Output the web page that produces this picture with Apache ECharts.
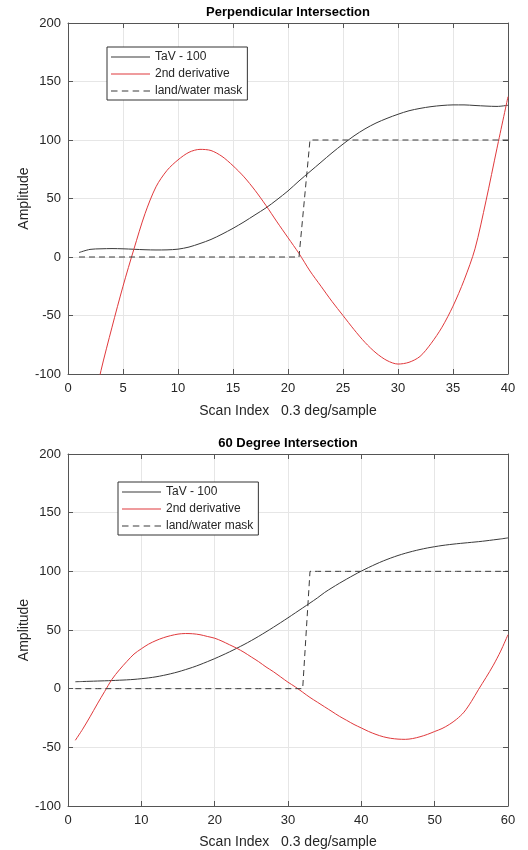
<!DOCTYPE html>
<html>
<head>
<meta charset="utf-8">
<script src="https://cdn.jsdelivr.net/npm/echarts@6/dist/echarts.min.js"></script>
<style>
html,body{margin:0;padding:0;background:#fff;}
#chart{width:528px;height:850px;}
</style>
</head>
<body>
<div id="chart"></div>
<script>
// ---------- Data ----------
var xTop = [1,2,3,4,5,6,7,8,9,10,11,12,13,14,15,16,17,18,19,20,21,22,23,24,25,26,27,28,29,30,31,32,33,34,35,36,37,38,39,40];
var tavTop = [3.8,6.5,7,7.2,7,6.6,6.2,6,6.1,6.7,8.5,11.5,15,19.5,24.5,30,36,42,49,56.5,65,73,81,89,96.5,103.5,109.5,114.5,118.5,122,125,127,128.5,129.5,130,130,129.5,129,128.7,129.7];
var derivTop = [-182,-140,-97,-60,-25,7,37,60,74,83,89.5,92,91,86,78,68.5,57,44,30,16.5,3,-12,-25,-38,-50,-62,-73,-82,-88.5,-91.5,-90,-85,-74,-60,-42,-20,7,48,93,137];
var maskTop = [0,0,0,0,0,0,0,0,0,0,0,0,0,0,0,0,0,0,0,0,0,100,100,100,100,100,100,100,100,100,100,100,100,100,100,100,100,100,100,100];

var xBot = [1,2,3,4,5,6,7,8,9,10,11,12,13,14,15,16,17,18,19,20,21,22,23,24,25,26,27,28,29,30,31,32,33,34,35,36,37,38,39,40,41,42,43,44,45,46,47,48,49,50,51,52,53,54,55,56,57,58,59,60];
var tavBot = [5.9,6.1,6.3,6.5,6.7,6.9,7.2,7.5,7.9,8.5,9.2,10.1,11.3,12.7,14.3,16.2,18.2,20.5,23,25.6,28.4,31.3,34.4,37.6,41,44.6,48.4,52.3,56.3,60.4,64.6,68.8,73,77.3,82,86,89.8,93.4,96.9,100.2,103.3,106.2,108.9,111.3,113.5,115.4,117.1,118.6,119.9,121,122,122.8,123.5,124.1,124.7,125.3,126,126.8,127.6,128.5];
var derivBot = [-44,-34.5,-24,-13,-2.4,8,16,23,29.5,34,38,41,43.4,45.2,46.5,47,46.8,46,44.5,43,40.5,37.5,34.5,31,27,23,18.5,14.5,10,5.5,1.5,-3,-7.5,-11.5,-15.5,-19.5,-23.5,-27,-30.5,-33.5,-36.5,-39,-41,-42.3,-43,-43.2,-42.5,-41,-39,-36.5,-34,-30.5,-26,-20,-11,-0.5,9.5,20,32,46];
var maskBot = [0,0,0,0,0,0,0,0,0,0,0,0,0,0,0,0,0,0,0,0,0,0,0,0,0,0,0,0,0,0,0,0,100,100,100,100,100,100,100,100,100,100,100,100,100,100,100,100,100,100,100,100,100,100,100,100,100,100,100,100];

var titles = ['Perpendicular Intersection', '60 Degree Intersection'];
var seriesNames = ['TaV - 100', '2nd derivative', 'land/water mask'];
var xAxisName = 'Scan Index   0.3 deg/sample';
var yAxisName = 'Amplitude';

// ---------- Build ----------
function pairs(xs, ys) { return xs.map(function (x, i) { return [x, ys[i]]; }); }

var FONT = 'Liberation Sans, Arial, sans-serif';
var AXIS_COLOR = '#555';
var GRID_COLOR = '#e6e6e6';
var TEXT_COLOR = '#262626';
var BLACK = '#3a3a3a';
var RED = '#e0393c';
var seriesColors = [BLACK, RED, BLACK];
var seriesDashed = [false, false, true];
var SOLID_ICON = 'rect';
var DASH_ICON = 'path://M0,0h6v1h-6zM10,0h6v1h-6zM20,0h6v1h-6zM30,0h6v1h-6z';
var ZW = '\u200b'; // invisible suffix so each panel's legend refers to its own series
var botNames = seriesNames.map(function (n) { return n + ZW; });

function mainX(gi, max, interval, gap) {
  return {
    type: 'value', gridIndex: gi, min: 0, max: max, interval: interval,
    position: 'bottom',
    name: xAxisName, nameLocation: 'middle', nameGap: gap, nameMoveOverlap: false,
    nameTextStyle: { fontFamily: FONT, fontSize: 14, color: TEXT_COLOR },
    axisLine: { show: true, onZero: false, lineStyle: { color: AXIS_COLOR, width: 1 } },
    axisTick: { show: true, inside: true, length: 5, lineStyle: { color: AXIS_COLOR } },
    axisLabel: { fontFamily: FONT, fontSize: 13, color: TEXT_COLOR, margin: 8 },
    splitLine: { show: true, lineStyle: { color: GRID_COLOR, width: 1 } }
  };
}
function topX(gi, max, interval) {
  return {
    type: 'value', gridIndex: gi, min: 0, max: max, interval: interval,
    position: 'top',
    axisLine: { show: true, onZero: false, lineStyle: { color: AXIS_COLOR, width: 1 } },
    axisTick: { show: true, inside: true, length: 5, lineStyle: { color: AXIS_COLOR } },
    axisLabel: { show: false },
    splitLine: { show: false }
  };
}
function mainY(gi) {
  return {
    type: 'value', gridIndex: gi, min: -100, max: 200, interval: 50,
    position: 'left',
    name: yAxisName, nameLocation: 'middle', nameGap: 37, nameMoveOverlap: false,
    nameTextStyle: { fontFamily: FONT, fontSize: 14, color: TEXT_COLOR },
    axisLine: { show: true, onZero: false, lineStyle: { color: AXIS_COLOR, width: 1 } },
    axisTick: { show: true, inside: true, length: 5, lineStyle: { color: AXIS_COLOR } },
    axisLabel: { fontFamily: FONT, fontSize: 13, color: TEXT_COLOR, margin: 7 },
    splitLine: { show: true, lineStyle: { color: GRID_COLOR, width: 1 } }
  };
}
function rightY(gi) {
  return {
    type: 'value', gridIndex: gi, min: -100, max: 200, interval: 50,
    position: 'right',
    axisLine: { show: true, onZero: false, lineStyle: { color: AXIS_COLOR, width: 1 } },
    axisTick: { show: true, inside: true, length: 5, lineStyle: { color: AXIS_COLOR } },
    axisLabel: { show: false },
    splitLine: { show: false }
  };
}
function lineSeries(name, xi, yi, data, color, dashed) {
  return {
    type: 'line', name: name, xAxisIndex: xi, yAxisIndex: yi,
    data: data, symbol: 'none', showSymbol: false, smooth: dashed ? false : 0.3, clip: true,
    animation: false,
    lineStyle: { color: color, width: 1, type: dashed ? [6, 4] : 'solid' },
    itemStyle: { color: color },
    emphasis: { disabled: true }
  };
}
function legend(left, top, names) {
  return {
    orient: 'vertical', left: left, top: top,
    data: names.map(function (n, i) {
      return {
        name: n,
        icon: seriesDashed[i] ? DASH_ICON : SOLID_ICON,
        itemStyle: { color: seriesColors[i], borderWidth: 0, opacity: 1 }
      };
    }),
    formatter: function (name) { return name.replace(ZW, ''); },
    itemWidth: 39, itemHeight: 1, itemGap: 3,
    symbolKeepAspect: false,
    padding: [3, 5, 2, 4],
    backgroundColor: '#fff', borderColor: '#333', borderWidth: 1, borderRadius: 0,
    textStyle: { fontFamily: FONT, fontSize: 12, lineHeight: 14, color: TEXT_COLOR },
    selectedMode: false
  };
}

var option = {
  backgroundColor: '#fff',
  animation: false,
  title: [
    { text: titles[0], left: 288, top: 6, textAlign: 'center', padding: 0,
      textStyle: { fontFamily: FONT, fontSize: 13, fontWeight: 'bold', color: '#000' } },
    { text: titles[1], left: 288, top: 437, textAlign: 'center', padding: 0,
      textStyle: { fontFamily: FONT, fontSize: 13, fontWeight: 'bold', color: '#000' } }
  ],
  legend: [legend(107, 47, seriesNames), legend(118, 482, botNames)],
  grid: [
    { left: 68, top: 23, width: 440, height: 351, containLabel: false },
    { left: 68, top: 454, width: 440, height: 353, containLabel: false }
  ],
  xAxis: [mainX(0, 40, 5, 30), topX(0, 40, 5), mainX(1, 60, 10, 29), topX(1, 60, 10)],
  yAxis: [mainY(0), rightY(0), mainY(1), rightY(1)],
  series: [
    lineSeries(seriesNames[0], 0, 0, pairs(xTop, tavTop), seriesColors[0], seriesDashed[0]),
    lineSeries(seriesNames[1], 0, 0, pairs(xTop, derivTop), seriesColors[1], seriesDashed[1]),
    lineSeries(seriesNames[2], 0, 0, pairs(xTop, maskTop), seriesColors[2], seriesDashed[2]),
    lineSeries(botNames[0], 2, 2, pairs(xBot, tavBot), seriesColors[0], seriesDashed[0]),
    lineSeries(botNames[1], 2, 2, pairs(xBot, derivBot), seriesColors[1], seriesDashed[1]),
    lineSeries(botNames[2], 2, 2, pairs(xBot, maskBot), seriesColors[2], seriesDashed[2])
  ]
};

var chart = echarts.init(document.getElementById('chart'), null, { renderer: 'canvas' });
chart.setOption(option);
</script>
</body>
</html>
